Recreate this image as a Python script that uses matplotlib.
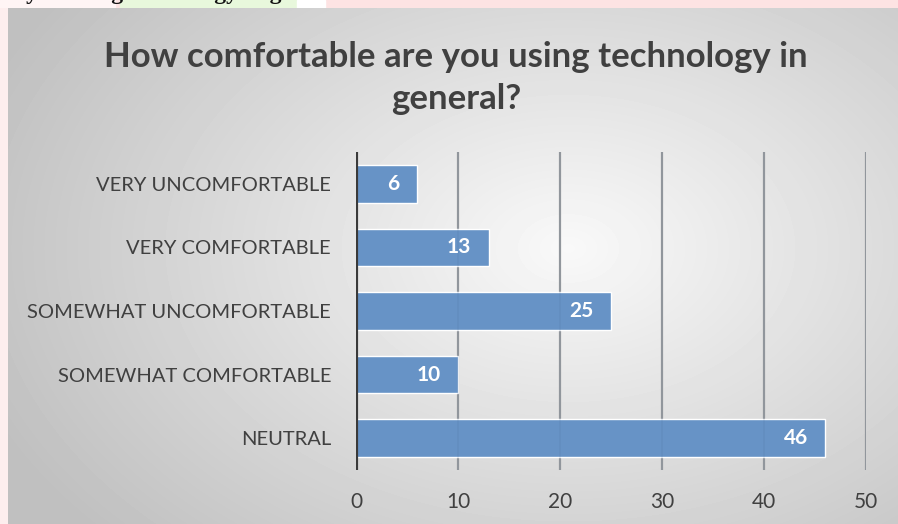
import numpy as np
import matplotlib
matplotlib.use('Agg')
import matplotlib.pyplot as plt

categories=['NEUTRAL','SOMEWHAT COMFORTABLE','SOMEWHAT UNCOMFORTABLE','VERY COMFORTABLE','VERY UNCOMFORTABLE']
counts=[46,10,25,13,6]
xticks=[0,10,20,30,40,50]
title='How comfortable are you using technology in\ngeneral?'

plt.rcParams['font.family']=['Lato','DejaVu Sans']
W,H=898,524
fig=plt.figure(figsize=(W/100,H/100),dpi=100)
fig.patch.set_facecolor('#fdeeee')

# chart background: radial grey gradient
bg=fig.add_axes([8/W,0,1-8/W,1-8/H])
yy,xx=np.mgrid[0:516,0:890]
d=np.sqrt(((xx-560)/620)**2+((yy-240)/420)**2)
shade=np.clip(0.975-0.22*d,0.75,0.975)
bg.imshow(shade,cmap='gray',vmin=0,vmax=1,aspect='auto',extent=[0,1,0,1])
bg.set_axis_off()

# cut-off strip of the page above the chart
top=fig.add_axes([0,1-8/H,1,8/H])
top.set_xlim(0,W); top.set_ylim(0,8)
top.axhspan(0,8,xmin=0,xmax=1,color='#fde3e3')
top.axvspan(0,115,color='#fff5f5')
top.axvspan(120,297,color='#e8f8dc')
top.axvspan(297,325,color='#ffffff')
top.text(-60,9,'able are you using technology in general?',fontsize=17,fontweight='bold',
         family='Liberation Serif',va='baseline',ha='left',color='#111111',clip_on=True)
top.set_axis_off()

ax=fig.add_axes([356/W,1-470/H,510/W,318/H])
ax.set_facecolor('none')
y=np.arange(len(categories))
bars=ax.barh(y,counts,height=0.59,color='#6793c6',edgecolor='white',linewidth=1,zorder=3)
ax.set_xlim(0,50)
ax.set_ylim(-0.5,4.5)
ax.set_xticks(xticks)
for t in xticks[1:]:
    ax.axvline(t,color='#9c9c9c',lw=1.6,zorder=1)
    ax.axvline(t,color='#4a6f9c',lw=1.2,zorder=4,alpha=0.15)
ax.axvline(0,color='#3a3a3a',lw=3,zorder=5)
for s in ax.spines.values():
    s.set_visible(False)
ax.tick_params(axis='both',length=0,labelcolor='#404040')
ax.tick_params(axis='x',pad=16,labelsize=15)
ax.tick_params(axis='y',pad=18,labelsize=14.5)
ax.set_yticks(y)
ax.set_yticklabels(categories)

for b,v in zip(bars,counts):
    ax.text(v-1.7,b.get_y()+b.get_height()/2,str(v),ha='right',va='center',
            color='white',fontsize=15,fontweight='bold',zorder=6)

fig.text(456/W,1-78/H,title,ha='center',va='center',fontsize=25,fontweight='bold',
         color='#404040',linespacing=1.38)

fig.savefig('out.png',dpi=100)
